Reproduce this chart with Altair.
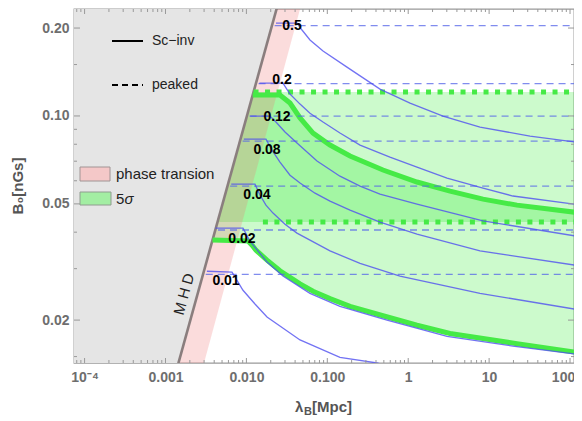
import altair as alt
import pandas as pd

W, H = 500, 354
FONT = "Liberation Sans"

# ---------------- data ----------------
LAM_DOMAIN = [7.4e-5, 112.0]
B_DOMAIN = [0.01426, 0.2324]
LAM_FAR_LEFT = 5e-5
LAM_FAR_RIGHT = 140.0

# MHD limit line and phase-transition band (right edge)
MHD_B = [0.0138, 0.2400]
MHD_LAM = [0.00140, 0.02437]
PT_LAM = [0.0029, 0.0475]

# 5 sigma region, peaked spectrum (horizontal band)
PEAK_LO = 0.0433
PEAK_HI = 0.1208
PEAK_LO_START = 0.016

# 5 sigma region, scale-invariant spectrum
SC_LAM = [5e-5, 0.01047, 0.01197, 0.01314, 0.01798, 0.0260, 0.0346, 0.0460, 0.0666,
          0.1080, 0.191, 0.488, 1.284, 3.29, 8.41, 22.1, 140.0]
SC_LO = [0.0376, 0.0373, 0.0359, 0.0347, 0.0321, 0.0295, 0.0280, 0.0266, 0.0251,
         0.0237, 0.0223, 0.0207, 0.0192, 0.0180, 0.0173, 0.0166, 0.0154]
SC_HI = [0.1179, 0.1179, 0.1179, 0.1179, 0.1179, 0.1179, 0.1107, 0.0984, 0.0874,
         0.0795, 0.0729, 0.0653, 0.0594, 0.0553, 0.0519, 0.0495, 0.0465]

# solid (Sc-inv) contours
C001_LAM = [0.00325, 0.00664, 0.00908, 0.01277, 0.01798, 0.0460, 0.1434, 0.411, 0.595]
C001_B = [0.0294, 0.0292, 0.0253, 0.0227, 0.0205, 0.0171, 0.0149, 0.01426, 0.0139]
C002_LAM = [0.00415, 0.00908, 0.01107, 0.01798, 0.0283, 0.0611, 0.1434, 0.547, 3.02, 19.7, 140.0]
C002_B = [0.0413, 0.0413, 0.0373, 0.0316, 0.0283, 0.0247, 0.0223, 0.0200, 0.0176, 0.0163, 0.0152]
C004_LAM = [0.00650, 0.01277, 0.01472, 0.01745, 0.02133, 0.0300, 0.0422, 0.1080, 0.254, 0.791, 7.72, 140.0]
C004_B = [0.0584, 0.0584, 0.0536, 0.0495, 0.0465, 0.0426, 0.0397, 0.0345, 0.0313, 0.0283, 0.0247, 0.0216]
C008_LAM = [0.00930, 0.01745, 0.0207, 0.0260, 0.0346, 0.0460, 0.0705, 0.1080, 0.191, 0.448, 1.284, 7.72, 140.0]
C008_B = [0.0833, 0.0833, 0.0764, 0.0695, 0.0627, 0.0589, 0.0544, 0.0511, 0.0476, 0.0433, 0.0394, 0.0345, 0.0306]
C012_LAM = [0.01115, 0.01957, 0.0232, 0.0300, 0.0422, 0.0746, 0.1434, 0.254, 0.448, 1.284, 8.41, 140.0]
C012_B = [0.0999, 0.0999, 0.0953, 0.0881, 0.0808, 0.0701, 0.0622, 0.0575, 0.0540, 0.0499, 0.0437, 0.0385]
C02_LAM = [0.01447, 0.0283, 0.0346, 0.0460, 0.0611, 0.0885, 0.1434, 0.254, 0.595, 1.284, 3.02, 8.41, 19.7, 140.0]
C02_B = [0.1296, 0.1296, 0.1189, 0.1098, 0.1022, 0.0953, 0.0874, 0.0795, 0.0723, 0.0668, 0.0613, 0.0566, 0.0532, 0.0495]
C05_LAM = [0.0232, 0.0422, 0.0487, 0.0611, 0.0885, 0.175, 0.448, 1.053, 2.69, 7.72, 32.0, 140.0]
C05_B = [0.208, 0.208, 0.1969, 0.182, 0.1668, 0.147, 0.1236, 0.1107, 0.0999, 0.0916, 0.0853, 0.0808]

# dashed (peaked) contours: horizontal levels
DASHED_LEVELS = [0.0287, 0.0407, 0.0575, 0.0820, 0.0999, 0.1290, 0.2040]

# contour labels
LABEL_TEXT = ["0.5", "0.2", "0.12", "0.08", "0.04", "0.02", "0.01"]
LABEL_LAM = [0.0366, 0.0275, 0.0239, 0.01798, 0.01352, 0.00882, 0.0056]
LABEL_B = [0.2032, 0.1327, 0.0991, 0.0764, 0.0536, 0.0379, 0.0272]

MHD_TEXT_LAM = [0.001694]
MHD_TEXT_B = [0.02455]

# axis ticks
X_MAJOR = [1e-4, 1e-3, 1e-2, 1e-1, 1.0, 10.0, 100.0]
X_LABELS = ["10⁻⁴", "0.001", "0.010", "0.100", "1", "10", "100"]
X_MINOR = [m * 10.0 ** k for k in range(-5, 3) for m in range(2, 10)
           if LAM_DOMAIN[0] <= m * 10.0 ** k <= LAM_DOMAIN[1]]
Y_MAJOR = [0.02, 0.05, 0.10, 0.20]
Y_LABELS = ["0.02", "0.05", "0.10", "0.20"]
Y_MINOR = [0.015, 0.03, 0.04, 0.06, 0.07, 0.08, 0.09, 0.15]

# ---------------- scales / axes ----------------
xs = alt.Scale(type="log", domain=LAM_DOMAIN, nice=False)
ys = alt.Scale(type="log", domain=B_DOMAIN, nice=False)

x_expr = " : ".join(
    f"abs(log(datum.value)/LN10 - ({i - 4})) < 0.01 ? '{lab}'" for i, lab in enumerate(X_LABELS)
) + " : ''"
y_expr = " : ".join(
    f"abs(datum.value - {v}) < 0.001 ? '{lab}'" for v, lab in zip(Y_MAJOR, Y_LABELS)
) + " : ''"

x_axis = alt.Axis(values=X_MAJOR, labelExpr=x_expr, tickSize=0, domain=False, grid=False,
                  title="", labelFont=FONT, labelFontWeight="bold", labelFontSize=14,
                  labelColor="#6e6e6e", labelPadding=7, labelFlush=False, labelOverlap=False,
                  labelOffset={"condition": {"test": "datum.value > 50", "value": -7}, "value": 0})
y_axis = alt.Axis(values=Y_MAJOR, labelExpr=y_expr, tickSize=0, domain=False, grid=False,
                  title="", labelFont=FONT, labelFontWeight="bold", labelFontSize=14,
                  labelColor="#6e6e6e", labelPadding=5, labelFlush=False, labelOverlap=False)


def X(f):
    return alt.X(f"{f}:Q", scale=xs, axis=x_axis)


def Y(f):
    return alt.Y(f"{f}:Q", scale=ys, axis=y_axis)


K = MHD_B[0] / MHD_LAM[0]

# ---------------- layers ----------------
peak_df = pd.DataFrame({"lam": [LAM_FAR_LEFT], "lam2": [LAM_FAR_RIGHT], "B": [PEAK_LO], "B2": [PEAK_HI]})
peak_fill = alt.Chart(peak_df).mark_rect(color="#00e600", opacity=0.2, clip=True).encode(
    x=X("lam"), x2="lam2:Q", y=Y("B"), y2="B2:Q")

sc_df = pd.DataFrame({"lam": SC_LAM, "lo": SC_LO, "hi": SC_HI})
sc_fill = alt.Chart(sc_df).mark_area(color="#00e600", opacity=0.2, clip=True).encode(
    x=X("lam"), y=Y("lo"), y2="hi:Q")

band_df = pd.DataFrame({"B": MHD_B, "l1": MHD_LAM, "l2": PT_LAM})
pink = alt.Chart(band_df).mark_area(orient="horizontal", color="#f07878", opacity=0.26, clip=True).encode(
    y=Y("B"), x=X("l1"), x2="l2:Q")

gray_df = pd.DataFrame({"B": MHD_B, "l1": [LAM_FAR_LEFT, LAM_FAR_LEFT], "l2": MHD_LAM})
gray = alt.Chart(gray_df).mark_area(orient="horizontal", color="#e5e5e5", opacity=1, clip=True).encode(
    y=Y("B"), x=X("l1"), x2="l2:Q")

mhd_df = pd.DataFrame({"lam": MHD_LAM, "B": MHD_B})
mhd_line = alt.Chart(mhd_df).mark_line(color="#8a7e7e", strokeWidth=2.6, clip=True).encode(
    x=X("lam"), y=Y("B"))

lo_line_df = pd.DataFrame({"lam": [max(l, b / K) for l, b in zip(SC_LAM, SC_LO)], "B": SC_LO})
hi_line_df = pd.DataFrame({"lam": [max(l, b / K) for l, b in zip(SC_LAM, SC_HI)], "B": SC_HI})
GREEN = "#46ea46"
lo_line = alt.Chart(lo_line_df).mark_line(color=GREEN, strokeWidth=5, clip=True).encode(
    x=X("lam"), y=Y("B"))
hi_line = alt.Chart(hi_line_df).mark_line(color=GREEN, strokeWidth=5, clip=True).encode(
    x=X("lam"), y=Y("B"))

pk_df = pd.DataFrame({
    "lam": [PEAK_HI / K, LAM_FAR_RIGHT, PEAK_LO_START, LAM_FAR_RIGHT],
    "B": [PEAK_HI, PEAK_HI, PEAK_LO, PEAK_LO],
    "g": ["hi", "hi", "lo", "lo"]})
pk_lines = alt.Chart(pk_df).mark_line(color=GREEN, strokeWidth=5, strokeDash=[5, 6.5],
                                       strokeCap="butt", clip=True).encode(
    x=X("lam"), y=Y("B"), detail="g:N")

rows = []
for name, lams, bs in [("0.01", C001_LAM, C001_B), ("0.02", C002_LAM, C002_B),
                       ("0.04", C004_LAM, C004_B), ("0.08", C008_LAM, C008_B),
                       ("0.12", C012_LAM, C012_B), ("0.2", C02_LAM, C02_B),
                       ("0.5", C05_LAM, C05_B)]:
    for i, (l, b) in enumerate(zip(lams, bs)):
        rows.append({"lev": name, "i": i, "lam": l, "B": b})
solid_df = pd.DataFrame(rows)
solid = alt.Chart(solid_df).mark_line(color="#4f4ff0", opacity=0.8, strokeWidth=1.3, clip=True).encode(
    x=X("lam"), y=Y("B"), detail="lev:N", order="i:Q")

drows = []
for lev in DASHED_LEVELS:
    drows.append({"lev": lev, "lam": lev / K * 1.08, "B": lev})
    drows.append({"lev": lev, "lam": LAM_FAR_RIGHT, "B": lev})
dashed_df = pd.DataFrame(drows)
dashed = alt.Chart(dashed_df).mark_line(color="#5566e8", opacity=0.75, strokeWidth=1.3,
                                        strokeDash=[7, 5], clip=True).encode(
    x=X("lam"), y=Y("B"), detail="lev:N")

lab_df = pd.DataFrame({"lam": LABEL_LAM, "B": LABEL_B, "t": LABEL_TEXT})
labels = alt.Chart(lab_df).mark_text(font=FONT, fontSize=14, fontWeight="bold", color="black",
                                     align="center", baseline="middle").encode(
    x=X("lam"), y=Y("B"), text="t:N")

mhd_txt_df = pd.DataFrame({"lam": MHD_TEXT_LAM, "B": MHD_TEXT_B, "t": ["M H D"]})
mhd_txt = alt.Chart(mhd_txt_df).mark_text(font=FONT, fontSize=15, color="#222222", angle=285.5,
                                          align="center", baseline="middle").encode(
    x=X("lam"), y=Y("B"), text="t:N")

TICK = "#999999"
xmaj_df = pd.DataFrame({"lam": X_MAJOR})
xmin_df = pd.DataFrame({"lam": X_MINOR})
ymaj_df = pd.DataFrame({"B": Y_MAJOR})
ymin_df = pd.DataFrame({"B": Y_MINOR})
ticks = []
for df, ln in [(xmaj_df, 5), (xmin_df, 3)]:
    ticks.append(alt.Chart(df).mark_rule(color=TICK, strokeWidth=1).encode(
        x=X("lam"), y=alt.value(H), y2=alt.value(H - ln)))
    ticks.append(alt.Chart(df).mark_rule(color=TICK, strokeWidth=1).encode(
        x=X("lam"), y=alt.value(0), y2=alt.value(ln)))
for df, ln in [(ymaj_df, 6), (ymin_df, 3)]:
    ticks.append(alt.Chart(df).mark_rule(color=TICK, strokeWidth=1).encode(
        y=Y("B"), x=alt.value(0), x2=alt.value(ln)))
    ticks.append(alt.Chart(df).mark_rule(color=TICK, strokeWidth=1).encode(
        y=Y("B"), x=alt.value(W), x2=alt.value(W - ln)))

one = pd.DataFrame({"k": [0]})


def txt(s, x, y, size=14, weight="normal", style="normal", color="#222222", align="left", angle=0):
    return alt.Chart(pd.DataFrame({"s": [s]})).mark_text(
        font=FONT, fontSize=size, fontWeight=weight, fontStyle=style, color=color,
        align=align, baseline="middle", angle=angle).encode(
        x=alt.value(x), y=alt.value(y), text="s:N")


legend = [
    alt.Chart(one).mark_rule(color="black", strokeWidth=2).encode(
        x=alt.value(38), x2=alt.value(69), y=alt.value(32)),
    alt.Chart(one).mark_rule(color="black", strokeWidth=2, strokeDash=[6, 4]).encode(
        x=alt.value(38), x2=alt.value(69), y=alt.value(76)),
    txt("Sc−inv", 78, 32, size=14),
    txt("peaked", 78, 76, size=14),
    alt.Chart(one).mark_rect(color="#f4c8c8", stroke="#a09494", strokeWidth=1).encode(
        x=alt.value(6), x2=alt.value(36), y=alt.value(158), y2=alt.value(172)),
    alt.Chart(one).mark_rect(color="#a3eea3", stroke="#909c90", strokeWidth=1).encode(
        x=alt.value(6), x2=alt.value(37), y=alt.value(183), y2=alt.value(196)),
    txt("phase transion", 42, 165, size=15),
    txt("5", 42, 190, size=15),
    txt("σ", 50.5, 190, size=15, style="italic"),
]

titles = [
    txt("B₀[nGs]", -56, 177, size=15, weight="bold", color="#555555", align="center", angle=270),
    txt("λ", 221, 398, size=15, weight="bold", color="#555555"),
    txt("B", 230, 403, size=11, weight="bold", color="#555555"),
    txt("[Mpc]", 238, 398, size=15, weight="bold", color="#555555"),
]

chart = alt.layer(
    peak_fill, sc_fill, pink, gray, mhd_line,
    lo_line, hi_line, pk_lines, dashed, solid, labels, mhd_txt,
    *ticks, *legend, *titles
).properties(
    width=W, height=H,
    autosize=alt.AutoSizeParams(type="none"),
    padding={"left": 66, "top": 1, "right": 0, "bottom": 58},
).configure_view(stroke="#999999", strokeWidth=1.3)

chart.save("out.html", embed_options={"renderer": "svg", "actions": False})
